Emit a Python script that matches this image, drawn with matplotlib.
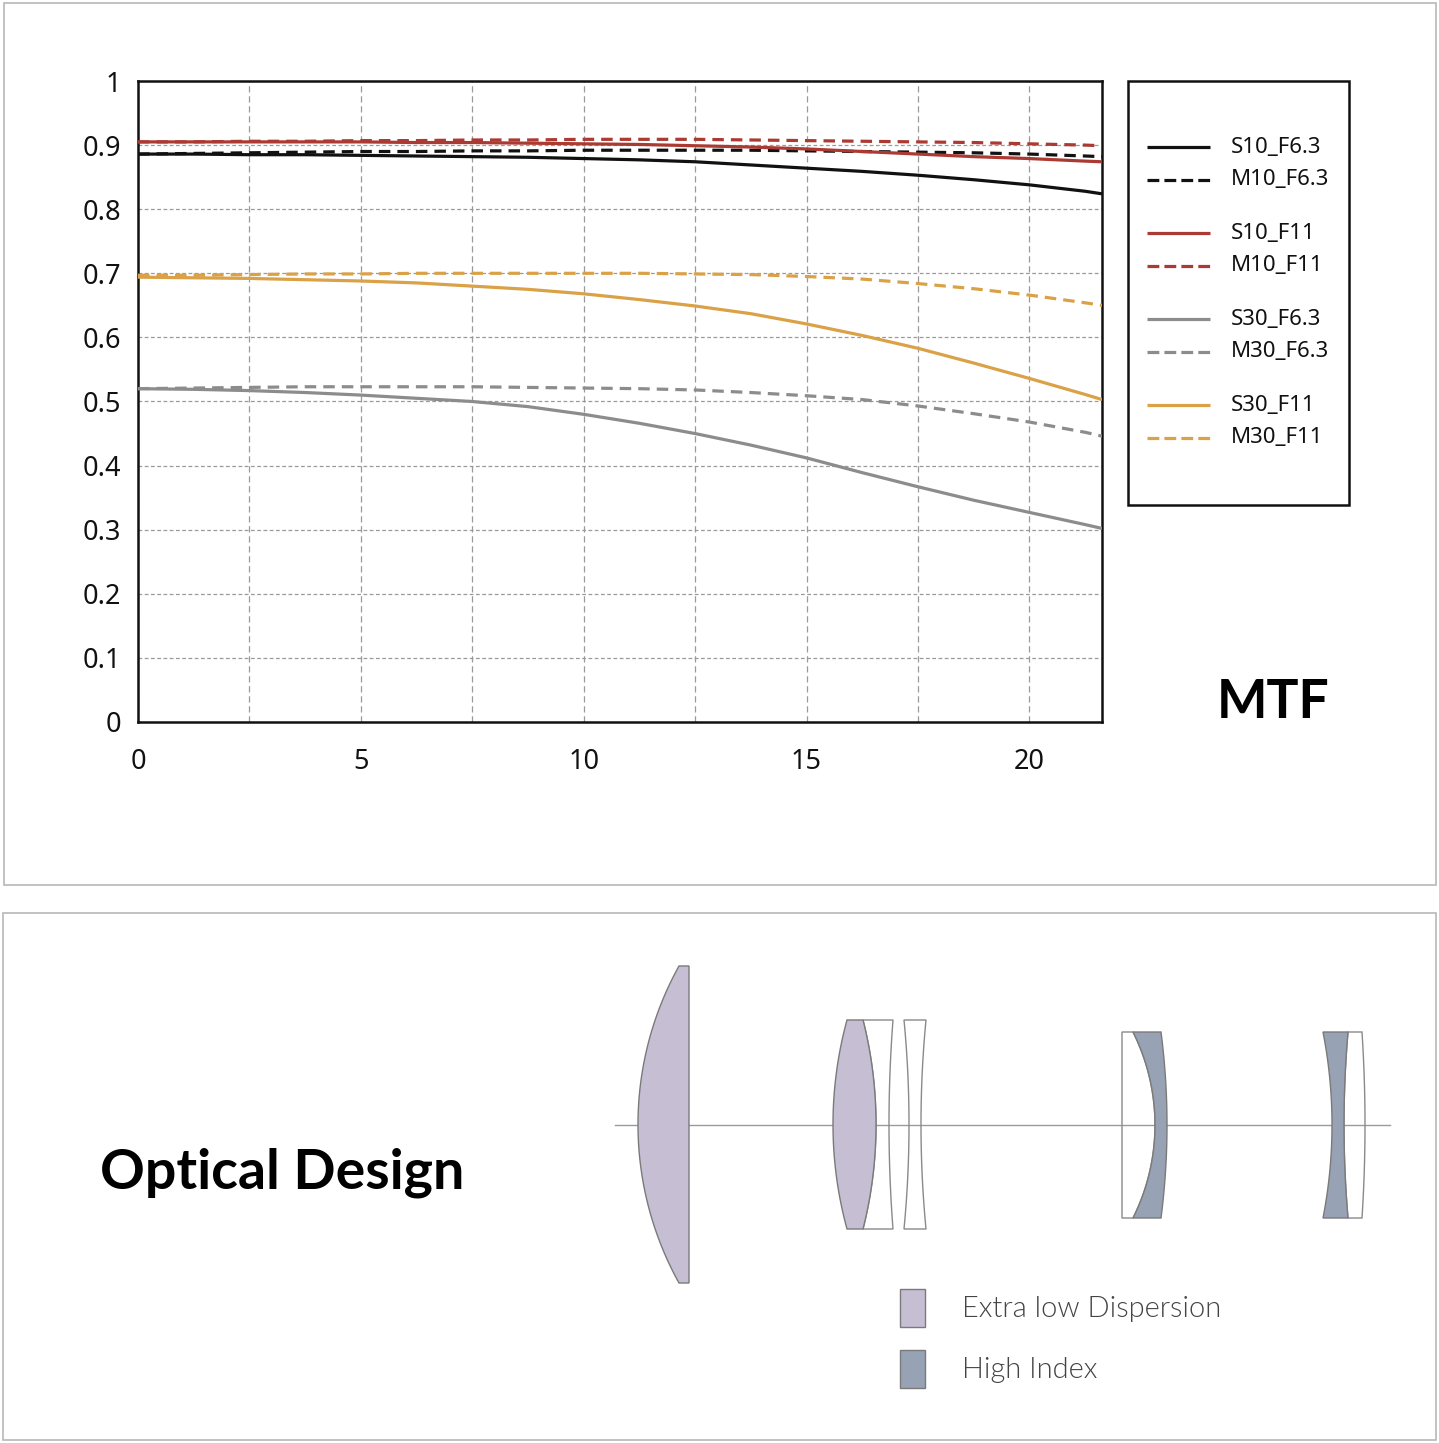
import numpy as np
import matplotlib
matplotlib.use("Agg")
import matplotlib.pyplot as plt
from matplotlib.patches import Rectangle, Polygon

plt.rcParams['font.family'] = ['Noto Sans', 'DejaVu Sans']

# ---------------- data ----------------
x_field = [0, 1.25, 2.5, 3.75, 5, 6.25, 7.5, 8.75, 10, 11.25, 12.5, 13.75,
           15, 16.25, 17.5, 18.75, 20, 21.25, 21.63]
series_names = ["S10_F6.3", "M10_F6.3", "S10_F11", "M10_F11",
                "S30_F6.3", "M30_F6.3", "S30_F11", "M30_F11"]
S10_F63 = [0.886, 0.886, 0.885, 0.885, 0.884, 0.883, 0.882, 0.881, 0.879, 0.877,
           0.874, 0.869, 0.864, 0.859, 0.853, 0.846, 0.838, 0.828, 0.824]
M10_F63 = [0.886, 0.887, 0.888, 0.889, 0.890, 0.890, 0.891, 0.891, 0.892, 0.892,
           0.892, 0.892, 0.891, 0.890, 0.889, 0.888, 0.886, 0.883, 0.882]
S10_F11 = [0.905, 0.905, 0.905, 0.905, 0.905, 0.904, 0.904, 0.903, 0.902, 0.901,
           0.899, 0.897, 0.894, 0.890, 0.886, 0.882, 0.879, 0.875, 0.874]
M10_F11 = [0.905, 0.905, 0.906, 0.906, 0.907, 0.907, 0.908, 0.908, 0.909, 0.909,
           0.909, 0.908, 0.907, 0.906, 0.905, 0.904, 0.902, 0.900, 0.899]
S30_F63 = [0.520, 0.519, 0.517, 0.514, 0.510, 0.505, 0.500, 0.492, 0.480, 0.466,
           0.450, 0.432, 0.412, 0.389, 0.367, 0.346, 0.327, 0.308, 0.302]
M30_F63 = [0.520, 0.521, 0.522, 0.523, 0.523, 0.523, 0.523, 0.522, 0.521, 0.520,
           0.518, 0.514, 0.509, 0.503, 0.493, 0.481, 0.468, 0.452, 0.446]
S30_F11 = [0.694, 0.693, 0.692, 0.690, 0.688, 0.685, 0.680, 0.675, 0.668, 0.659,
           0.649, 0.637, 0.621, 0.603, 0.583, 0.560, 0.536, 0.511, 0.503]
M30_F11 = [0.697, 0.697, 0.698, 0.699, 0.699, 0.700, 0.700, 0.700, 0.700, 0.700,
           0.699, 0.698, 0.695, 0.691, 0.684, 0.676, 0.666, 0.654, 0.650]
series_values = [S10_F63, M10_F63, S10_F11, M10_F11, S30_F63, M30_F63, S30_F11, M30_F11]
series_colors = ["#111111", "#111111", "#ab3a33", "#ab3a33",
                 "#8c8c8c", "#8c8c8c", "#daa147", "#daa147"]
series_dashed = [False, True, False, True, False, True, False, True]

x_ticks = [0, 5, 10, 15, 20]
y_ticks = [0, 0.1, 0.2, 0.3, 0.4, 0.5, 0.6, 0.7, 0.8, 0.9, 1]
y_tick_labels = ["0", "0.1", "0.2", "0.3", "0.4", "0.5", "0.6", "0.7", "0.8", "0.9", "1"]

legend_items = [("Extra low Dispersion", "#c6bfd4"), ("High Index", "#97a2b4")]

# lens geometry (decorative illustration): (left_edge, left_center, right_edge, right_center, y_top, y_bot, fill)
lens_specs = [
    (679, 638, 689, 689, 966, 1283, "#c6bfd4"),
    (847, 833, 863, 876, 1020, 1229, "#c6bfd4"),
    (863, 876, 893, 889, 1020, 1229, None),
    (904, 909, 926, 921, 1020, 1229, None),
    (1122, 1122, 1133, 1155, 1032, 1218, None),
    (1133, 1155, 1161, 1167, 1032, 1218, "#97a2b4"),
    (1323, 1332, 1348, 1344, 1032, 1218, "#97a2b4"),
    (1348, 1344, 1362, 1365, 1032, 1218, None),
]

W, H = 1439, 1443
fig = plt.figure(figsize=(W / 100, H / 100), dpi=100)

# canvas in pixel coordinates
cv = fig.add_axes([0, 0, 1, 1], zorder=0)
cv.set_xlim(0, W)
cv.set_ylim(H, 0)
cv.axis("off")

cv.add_patch(Rectangle((4, 3), 1432, 882, fill=False, ec="#b8b8b8", lw=1.2))
cv.add_patch(Rectangle((3, 913), 1433, 527, fill=False, ec="#b8b8b8", lw=1.2))

# ---------------- MTF chart ----------------
ax = fig.add_axes([138 / W, 1 - 722 / H, (1102 - 138) / W, (722 - 81) / H], zorder=2)
lines = []
for vals, col, dsh in zip(series_values, series_colors, series_dashed):
    ls = (0, (3.6, 2.2)) if dsh else "-"
    ln, = ax.plot(x_field, vals, color=col, lw=2.3, ls=ls, zorder=3, solid_capstyle="butt")
    lines.append(ln)

ax.set_xlim(0, 21.63)
ax.set_ylim(0, 1)
ax.set_xticks(x_ticks)
ax.set_xticks(np.arange(2.5, 21.6, 5), minor=True)
ax.set_yticks(y_ticks)
ax.set_yticklabels(y_tick_labels)
ax.tick_params(axis="both", which="both", length=0, labelsize=19.5, colors="#111111")
ax.tick_params(axis="x", pad=19)
ax.tick_params(axis="y", pad=12)
ax.grid(True, which="both", axis="x", color="#9a9a9a", lw=0.9, ls=(0, (5, 3)))
ax.grid(True, which="major", axis="y", color="#9a9a9a", lw=0.9, ls=(0, (3, 2)))
ax.set_axisbelow(True)
for sp in ax.spines.values():
    sp.set_linewidth(1.8)
    sp.set_color("#111111")

# legend box
cv.add_patch(Rectangle((1128, 81), 221, 424, fill=False, ec="#111111", lw=1.8))
row_y0 = 147
for i, (name, ln) in enumerate(zip(series_names, lines)):
    y = row_y0 + i * 32.5 + (i // 2) * 21
    cv.plot([1147, 1210], [y, y], color=ln.get_color(), lw=2.3, ls=ln.get_linestyle(),
            solid_capstyle="butt")
    cv.text(1231, y, name, fontsize=16, va="center", ha="left", color="#111111")

bold_family = ["Lato", "Roboto", "DejaVu Sans"]
cv.text(1273, 702, "MTF", fontsize=38.5, fontweight="bold", ha="center", va="center",
        color="#000000", family=bold_family)

# ---------------- Optical design ----------------
cv.text(100, 1173, "Optical Design", fontsize=40, fontweight="bold", ha="left", va="center",
        color="#000000", family=bold_family)

cv.plot([615, 1390], [1124.5, 1124.5], color="#9a9a9a", lw=1.0, zorder=1)


def surface(xe, xc, yc, h, ys):
    s = xc - xe
    if abs(s) < 1e-9:
        return np.full_like(ys, xe, dtype=float)
    R = (h * h + s * s) / (2 * abs(s))
    dy = ys - yc
    return xc - np.sign(s) * (R - np.sqrt(R * R - dy * dy))


for (le, lc, re, rc, yt, yb, fc) in lens_specs:
    yc = (yt + yb) / 2
    h = (yb - yt) / 2
    ys = np.linspace(yt, yb, 120)
    xl = surface(le, lc, yc, h, ys)
    xr = surface(re, rc, yc, h, ys)
    pts = np.vstack([np.column_stack([xl, ys]), np.column_stack([xr[::-1], ys[::-1]])])
    if fc is None:
        cv.add_patch(Polygon(pts, closed=True, fill=False, ec="#8a8a8a", lw=1.0, zorder=2))
    else:
        cv.add_patch(Polygon(pts, closed=True, fc=fc, ec="#7a7a7a", lw=1.0, zorder=3))

for i, (lab, col) in enumerate(legend_items):
    y = 1289 + i * 61
    cv.add_patch(Rectangle((900, y), 25, 38, fc=col, ec="#7a7a7a", lw=1.0))
    cv.text(962, y + 20, lab, fontsize=21, ha="left", va="center", color="#444444",
            family=["Lato", "Noto Sans", "DejaVu Sans"], fontweight=300)

fig.savefig("out.png", dpi=100, facecolor="white")
